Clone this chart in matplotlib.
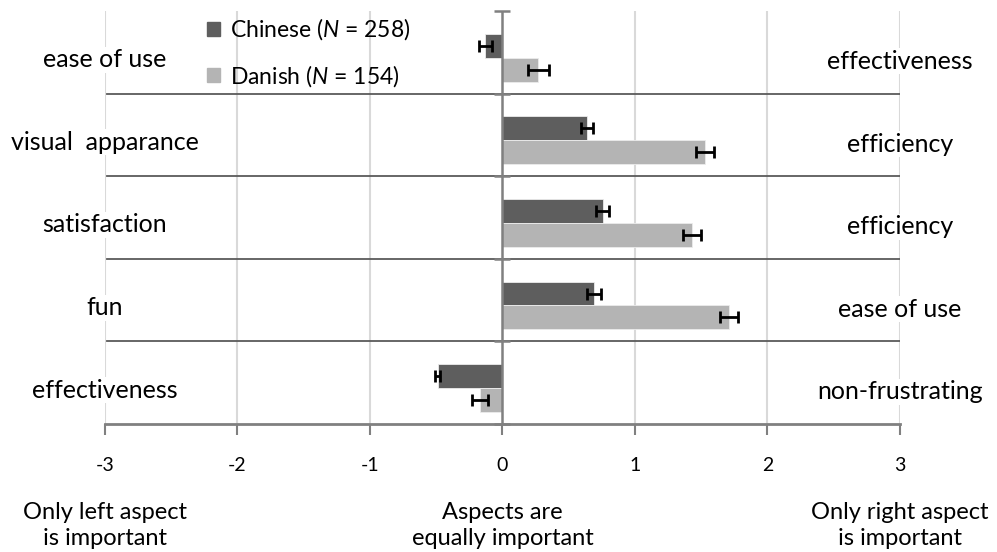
import matplotlib
matplotlib.use("Agg")
import matplotlib.pyplot as plt
from matplotlib.patches import Patch
from matplotlib.transforms import blended_transform_factory

# data, top to bottom
LEFT_ASPECT = ["ease of use", "visual  apparance", "satisfaction", "fun", "effectiveness"]
RIGHT_ASPECT = ["effectiveness", "efficiency", "efficiency", "ease of use", "non-frustrating"]
CHINESE = [-0.13, 0.64, 0.755, 0.69, -0.49]
CHINESE_ERR = [0.05, 0.045, 0.05, 0.05, 0.02]
DANISH = [0.27, 1.53, 1.43, 1.71, -0.17]
DANISH_ERR = [0.08, 0.07, 0.07, 0.065, 0.06]
XTICKS = [-3, -2, -1, 0, 1, 2, 3]
BOTTOM_TEXT = ["Only left aspect\nis important", "Aspects are\nequally important",
               "Only right aspect\nis important"]

DARK = "#5e5e5e"
LIGHT = "#b4b4b4"
AXGRAY = "#808080"

plt.rcParams['font.family'] = ['Lato', 'DejaVu Sans']
plt.rcParams['mathtext.fontset'] = 'custom'
plt.rcParams['mathtext.it'] = 'Lato:italic'
plt.rcParams['mathtext.rm'] = 'Lato'

fig = plt.figure(figsize=(9.97, 5.52), dpi=100)
ax = fig.add_axes([0.1053, 0.2319, 0.7974, 0.748])

n = len(LEFT_ASPECT)
barh = 0.29
yc = [i + 0.42 for i in range(n)]
yd = [i + 0.71 for i in range(n)]

# grid
for x in XTICKS:
    if x != 0:
        ax.axvline(x, color="#d9d9d9", lw=1.5, zorder=0)

ekw = dict(ecolor="black", elinewidth=2, capsize=4, capthick=2)
ax.barh(yc, CHINESE, height=barh, color=DARK, edgecolor="#ececec", lw=0.6, zorder=2,
        xerr=CHINESE_ERR, error_kw=ekw)
ax.barh(yd, DANISH, height=barh, color=LIGHT, edgecolor="#ececec", lw=0.6, zorder=2,
        xerr=DANISH_ERR, error_kw=ekw)

# separators between groups
for b in range(1, n):
    ax.plot([-2.985, 3], [b, b], color="#5a5a5a", lw=1.3, zorder=1)

# zero line with small ticks
ax.axvline(0, color=AXGRAY, lw=1.8, zorder=3)
ax.plot([0] * (n + 1), range(n + 1), ls="none", marker="_", ms=12, mew=1.8, color=AXGRAY,
        zorder=3, clip_on=False)

box = dict(facecolor="white", edgecolor="none", pad=1)
for i in range(n):
    ax.text(-3, i + 0.59, LEFT_ASPECT[i], ha="center", va="center", fontsize=18, bbox=box,
            zorder=4, clip_on=False)
    ax.text(3, i + 0.61, RIGHT_ASPECT[i], ha="center", va="center", fontsize=18, bbox=box,
            zorder=4, clip_on=False)

ax.set_xlim(-3, 3)
ax.set_ylim(n, 0)
ax.set_yticks([])
ax.set_xticks(XTICKS)
ax.set_xticklabels([str(x) for x in XTICKS], fontsize=14)
ax.tick_params(axis="x", direction="out", length=8, width=1.5, color=AXGRAY, pad=16)
for s in ["top", "left", "right"]:
    ax.spines[s].set_visible(False)
ax.spines["bottom"].set_color(AXGRAY)
ax.spines["bottom"].set_linewidth(2)

trans = blended_transform_factory(ax.transData, fig.transFigure)
for x, t in zip([-3, 0, 3], BOTTOM_TEXT):
    ax.text(x, 0.048, t, ha="center", va="center", fontsize=17, linespacing=1.32,
            transform=trans)

handles = [Patch(color=DARK), Patch(color=LIGHT)]
ax.legend(handles, ["Chinese ($\\mathit{N}$ = 258)", "Danish ($\\mathit{N}$ = 154)"],
          loc="upper left", bbox_to_anchor=(0.103, 1.037), frameon=False, fontsize=16.5,
          handlelength=0.55, handleheight=0.55, handletextpad=0.45, labelspacing=0.9)

fig.savefig("out.png", dpi=100)
